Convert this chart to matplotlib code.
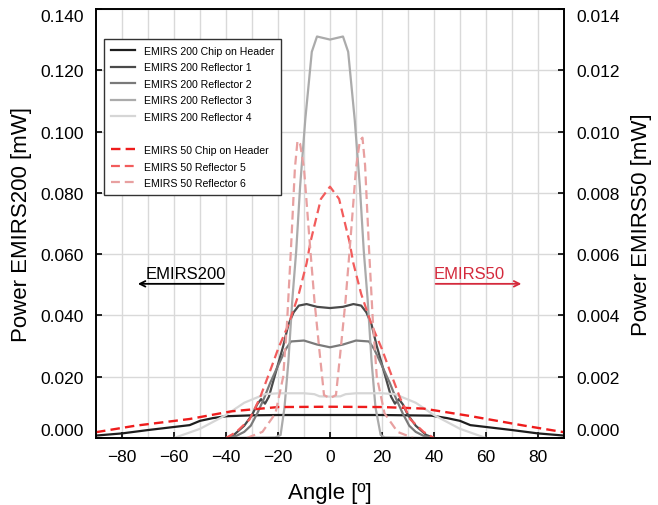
import numpy as np
import matplotlib.pyplot as plt
from matplotlib.lines import Line2D

plt.rcParams['font.family'] = ['Liberation Sans', 'DejaVu Sans']

# ---- EMIRS 200 (left axis, mW) ----
ang_chip200 = [-90, -80, -70, -60, -54, -50, -45, -40, -30, -20, 0, 20, 30, 39, 45, 50, 54, 60, 70, 80, 90]
pow_chip200 = [0.0008, 0.0015, 0.0026, 0.0036, 0.0042, 0.0056, 0.0065, 0.0071, 0.0074, 0.0075, 0.0075, 0.0075,
               0.0074, 0.0073, 0.0065, 0.0056, 0.0042, 0.0036, 0.0026, 0.0015, 0.0008]

ang_r1 = [-40, -37, -33, -30, -28, -26.5, -25, -23.5, -21, -18, -16, -14, -12, -9, -5, 0,
          5, 9, 12, 14, 16, 18, 21, 23.5, 25, 26.5, 28, 30, 33, 37, 40]
pow_r1 = [0.0, 0.001, 0.004, 0.0075, 0.011, 0.0127, 0.0112, 0.0135, 0.021, 0.030, 0.037, 0.041, 0.0432,
          0.0437, 0.0428, 0.0424, 0.0428, 0.0437, 0.0432, 0.041, 0.037, 0.030, 0.021, 0.0135, 0.0112,
          0.0127, 0.011, 0.0075, 0.004, 0.001, 0.0]

ang_r2 = [-40, -36, -33, -30.5, -28, -25.5, -23, -20, -17, -15, -10, -5, 0, 5, 10, 15, 17, 20, 23, 25.5,
          28, 30.5, 33, 36, 40]
pow_r2 = [0.0, 0.0007, 0.002, 0.004, 0.008, 0.0127, 0.018, 0.0236, 0.029, 0.0315, 0.0318, 0.0305, 0.0296,
          0.0305, 0.0318, 0.0315, 0.029, 0.0236, 0.018, 0.0127, 0.008, 0.004, 0.002, 0.0007, 0.0]

ang_r3 = [-40, -21, -19, -17.5, -16, -14.5, -13, -11.5, -9.5, -7, -5, 0, 5, 7, 9.5, 11.5, 13, 14.5, 16,
          17.5, 19.5, 21, 40]
pow_r3 = [0.0, 0.0002, 0.001, 0.01, 0.025, 0.045, 0.061, 0.082, 0.104, 0.126, 0.131, 0.130, 0.131, 0.126,
          0.104, 0.082, 0.061, 0.045, 0.025, 0.01, 0.001, 0.0002, 0.0]

ang_r4 = [-60, -50, -40, -33, -25, -20, -10, -6, -4, 0, 4, 6, 10, 20, 25, 33, 40, 50, 60]
pow_r4 = [0.0, 0.003, 0.0075, 0.0115, 0.0143, 0.0146, 0.0146, 0.0143, 0.0136, 0.0135, 0.0136, 0.0143,
          0.0146, 0.0146, 0.0143, 0.0115, 0.0075, 0.003, 0.0]

# ---- EMIRS 50 (right axis, mW) ----
ang_chip50 = [-90, -75, -54, -38, -20, 0, 20, 36, 53, 75, 90]
pow_chip50 = [0.00019, 0.0004, 0.00062, 0.00087, 0.00101, 0.00102, 0.00101, 0.00096, 0.00073, 0.0004, 0.00019]

ang_r5 = [-40, -36, -31, -27, -23, -20, -16, -12, -9, -7.5, -5.5, -3.5, 0, 3.5, 5.5, 7.5, 9, 12, 16, 20,
          23, 27, 31, 36, 40]
pow_r5 = [0.0, 0.0002, 0.0006, 0.0013, 0.0022, 0.0029, 0.0037, 0.0047, 0.0057, 0.0064, 0.0071, 0.0078,
          0.0082, 0.0078, 0.0071, 0.0064, 0.0057, 0.0047, 0.0037, 0.0029, 0.0022, 0.0013, 0.0006, 0.0002, 0.0]

ang_r6 = [-32, -26, -21, -18, -16.5, -15, -13.5, -12.5, -11.5, -10, -8, -6, -4, -2.3, 0, 2.3, 4, 6, 8,
          10, 11.5, 12.5, 13.5, 15, 16.5, 18, 21, 26, 32]
pow_r6 = [0.0, 0.0002, 0.0008, 0.002, 0.0038, 0.0062, 0.0088, 0.0097, 0.0096, 0.0088, 0.0066, 0.0045,
          0.0028, 0.0014, 0.0013, 0.0014, 0.0028, 0.0045, 0.0066, 0.0088, 0.0097, 0.0098, 0.0089, 0.0062,
          0.0038, 0.002, 0.0008, 0.0002, 0.0]

fig = plt.figure(figsize=(6.58, 5.06), dpi=100)
ax = fig.add_axes([0.146, 0.1324, 0.711, 0.848])
ax2 = ax.twinx()

grey_cols = ['#1e1e1e', '#4a4a4a', '#7a7a7a', '#ababab', '#d6d6d6']
red_cols = ['#ee1c1c', '#f25c5c', '#e8a0a0']
dash = (0, (4, 2.2))

h1, = ax.plot(ang_chip200, pow_chip200, color=grey_cols[0], lw=1.6, label='EMIRS 200 Chip on Header')
h2, = ax.plot(ang_r1, pow_r1, color=grey_cols[1], lw=1.6, label='EMIRS 200 Reflector 1')
h3, = ax.plot(ang_r2, pow_r2, color=grey_cols[2], lw=1.6, label='EMIRS 200 Reflector 2')
h4, = ax.plot(ang_r3, pow_r3, color=grey_cols[3], lw=1.6, label='EMIRS 200 Reflector 3')
h5, = ax.plot(ang_r4, pow_r4, color=grey_cols[4], lw=1.6, label='EMIRS 200 Reflector 4')

h6, = ax2.plot(ang_chip50, pow_chip50, color=red_cols[0], lw=1.7, ls=dash, label='EMIRS 50 Chip on Header')
h7, = ax2.plot(ang_r5, pow_r5, color=red_cols[1], lw=1.6, ls=dash, label='EMIRS 50 Reflector 5')
h8, = ax2.plot(ang_r6, pow_r6, color=red_cols[2], lw=1.6, ls=dash, label='EMIRS 50 Reflector 6')

ax.set_xlim(-90, 90)
ax.set_ylim(0, 0.14)
ax2.set_ylim(0, 0.014)

ax.set_xticks(np.arange(-80, 81, 20))
ax.set_xticks(np.arange(-80, 81, 10), minor=True)
ax.set_yticks(np.arange(0, 0.1401, 0.02))
ax.set_yticklabels(['%.3f' % v for v in np.arange(0, 0.1401, 0.02)])
ax2.set_yticks(np.arange(0, 0.01401, 0.002))
ax2.set_yticklabels(['%.3f' % v for v in np.arange(0, 0.01401, 0.002)])

ax.grid(True, which='both', axis='x', color='#d9d9d9', lw=1)
ax.grid(True, which='major', axis='y', color='#d9d9d9', lw=1)
ax.set_axisbelow(True)

ax.tick_params(axis='x', which='major', direction='in', length=4, width=1.2, labelsize=12.5, pad=8, top=False)
ax.tick_params(axis='x', which='minor', length=0)
ax.tick_params(axis='y', direction='in', length=4, width=1.2, labelsize=12.5, pad=9, right=False)
ax2.tick_params(axis='y', direction='in', length=4, width=1.2, labelsize=12.5, pad=9)

# end labels nudged inside the axis range
yl = ax.get_yticklabels()
yl[0].set_va('bottom')
yl[-1].set_va('top')
yl2 = ax2.get_yticklabels()
yl2[0].set_va('bottom')
yl2[-1].set_va('top')

for a in (ax, ax2):
    for s in a.spines.values():
        s.set_linewidth(1.2)

ax.set_xlabel('Angle [º]', fontsize=16, labelpad=13)
ax.set_ylabel('Power EMIRS200 [mW]', fontsize=16, labelpad=6)
ax2.set_ylabel('Power EMIRS50 [mW]', fontsize=16, labelpad=8, rotation=90)

# direction arrows
ax.annotate('', xy=(-75, 0.0503), xytext=(-39.8, 0.0503),
            arrowprops=dict(arrowstyle='->', color='black', lw=1.3))
ax.text(-71, 0.0512, 'EMIRS200', fontsize=12, color='black', va='bottom', ha='left')
ax.annotate('', xy=(74.7, 0.0503), xytext=(39.6, 0.0503),
            arrowprops=dict(arrowstyle='->', color='#d42a3c', lw=1.3))
ax.text(40, 0.0512, 'EMIRS50', fontsize=12, color='#d42a3c', va='bottom', ha='left')

blank = Line2D([], [], color='none')
handles = [h1, h2, h3, h4, h5, blank, h6, h7, h8]
labels = [h.get_label() for h in handles[:5]] + [''] + [h.get_label() for h in handles[6:]]
leg = ax2.legend(handles, labels, loc='upper left', bbox_to_anchor=(0.017, 0.93), borderaxespad=0,
                 fontsize=7.6, frameon=True, fancybox=False, edgecolor='#333333', framealpha=1,
                 handlelength=2.3, handletextpad=0.8, labelspacing=0.62, borderpad=0.65)
leg.get_frame().set_linewidth(1.0)

fig.savefig('out.png', dpi=100)
